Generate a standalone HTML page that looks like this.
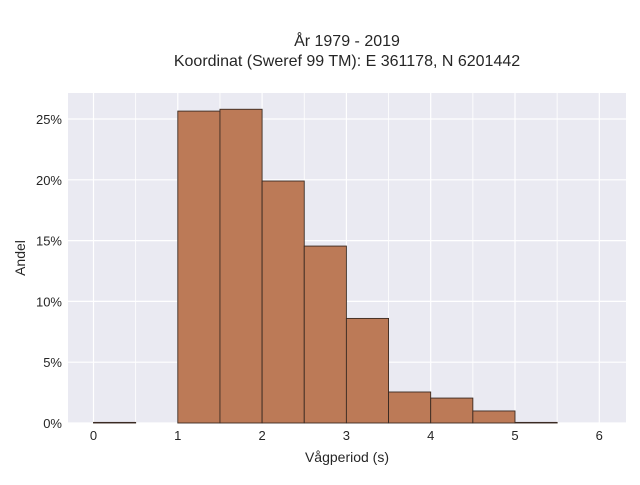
<!DOCTYPE html>
<html><head><meta charset="utf-8"><style>
body{margin:0;background:#fff;font-family:"Liberation Sans",sans-serif;}
</style></head><body>
<svg width="640" height="480" xmlns="http://www.w3.org/2000/svg">
<text x="347" y="46" text-anchor="middle" font-size="16" fill="#262626">År 1979 - 2019</text>
<text x="347" y="66" text-anchor="middle" font-size="16" fill="#262626">Koordinat (Sweref 99 TM): E 361178, N 6201442</text>
<rect x="68" y="93" width="558" height="330" fill="#eaeaf2"/>
<g id="grid"></g>
<g id="bars"></g>
<g id="xt"></g>
<g id="yt"></g>
<text x="347" y="462" text-anchor="middle" font-size="14" fill="#262626">Vågperiod (s)</text>
<text x="25" y="258" text-anchor="middle" font-size="14" fill="#262626" transform="rotate(-90 25 258)">Andel</text>
</svg>
<script>
const binStarts=[0,0.5,1,1.5,2,2.5,3,3.5,4,4.5,5];
const shares=[0.05,0,25.65,25.8,19.9,14.55,8.6,2.55,2.05,0.99,0.05];
const xTicks=[0,1,2,3,4,5,6];
const yTicks=[0,5,10,15,20,25];
const NS="http://www.w3.org/2000/svg";
const X=v=>93.5+v*84.3;
const Y=v=>423-v*12.16;
function mk(t,a,p){const e=document.createElementNS(NS,t);for(const k in a)e.setAttribute(k,a[k]);document.getElementById(p).appendChild(e);return e;}
for(let v=0;v<=6;v+=0.5){const l=mk('line',{x1:X(v),x2:X(v),y1:93,y2:423,stroke:'#fff','stroke-width':v%1?0.8:1.2},'grid');

}
yTicks.forEach(v=>{const l=mk('line',{x1:68,x2:626,y1:Y(v),y2:Y(v),stroke:'#fff','stroke-width':1.2},'grid');


const t=mk('text',{x:62,y:Y(v)+5,'text-anchor':'end','font-size':13,fill:'#262626'},'yt');t.textContent=v+'%';

});
xTicks.forEach(v=>{const t=mk('text',{x:X(v),y:440,'text-anchor':'middle','font-size':13,fill:'#262626'},'xt');t.textContent=v;

});
binStarts.forEach((b,i)=>{if(shares[i]<=0)return;const r=mk('rect',{x:X(b),y:Y(shares[i]),width:X(b+0.5)-X(b),height:423-Y(shares[i]),fill:'#bc7a57',stroke:'#3a2a22','stroke-width':0.9},'bars');

});
</script>
</body></html>
